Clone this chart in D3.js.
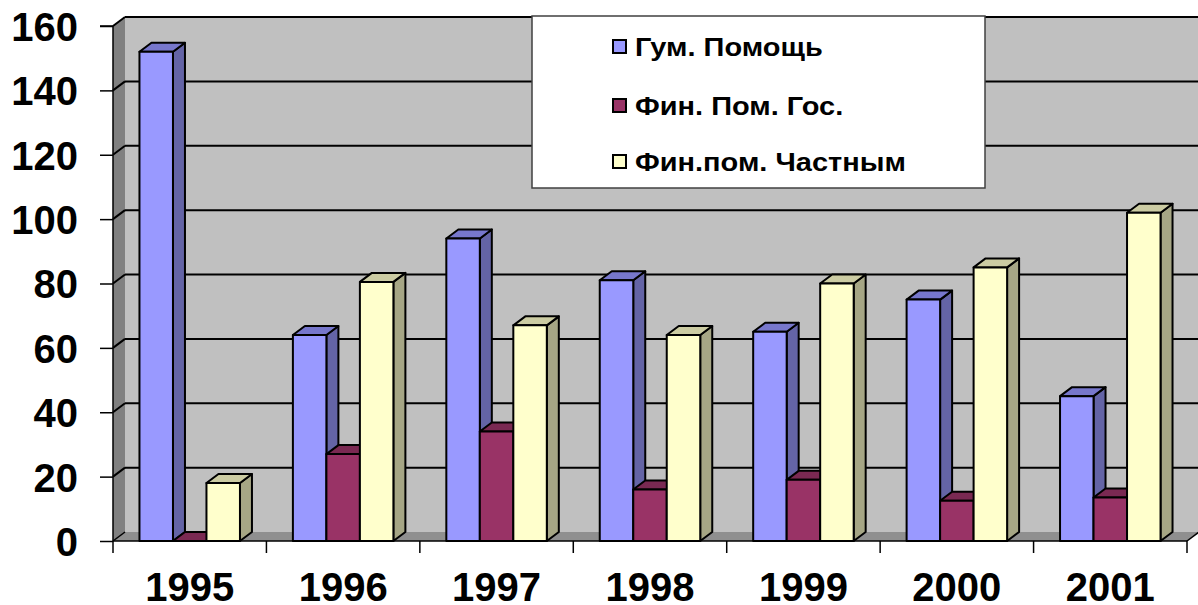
<!DOCTYPE html>
<html><head><meta charset="utf-8">
<script src="https://cdn.jsdelivr.net/npm/d3@7/dist/d3.min.js"></script>
<style>body{margin:0;background:#fff}svg{display:block}</style>
</head><body>
<svg id="chart" width="1198" height="605"></svg>
<script>
const years = ["1995","1996","1997","1998","1999","2000","2001"];
const seriesNames = ["Гум. Помощь","Фин. Пом. Гос.","Фин.пом. Частным"];
const humAid = [152, 64, 94, 81, 65, 75, 45];
const finGov = [0, 27, 34, 16, 19, 12.5, 13.5];
const finPrivate = [18, 80.5, 67, 64, 80, 85, 102];
const yTicks = [0,20,40,60,80,100,120,140,160];
const colors = ["#9999FF","#993366","#FFFFCC"];
const topColors = ["#7777CC","#7A2952","#CCCCA3"];
const sideColors = ["#6464A6","#632142","#A6A685"];
const seriesValues = [humAid, finGov, finPrivate];

const svg = d3.select("#chart");
const left = 113, right = 1187, bottom = 541, topY = 26;
const dx = 12, dy = 9;
const font = "'Liberation Sans', Arial, sans-serif";

const y = d3.scaleLinear().domain([0,160]).range([bottom, topY]);
const x0 = d3.scaleBand().domain(years).range([left, right]).paddingInner(0.345).paddingOuter(0.1725);
const x1 = d3.scaleBand().domain(d3.range(3)).range([0, x0.bandwidth()]);

// back wall
svg.append("rect").attr("x", left+dx).attr("y", topY-dy).attr("width", 1198-left-dx+2).attr("height", bottom-topY)
  .attr("fill","#C0C0C0");
// left wall
svg.append("polygon").attr("points", `${left},${topY} ${left+dx},${topY-dy} ${left+dx},${bottom-dy} ${left},${bottom}`)
  .attr("fill","#808080");
// floor
svg.append("polygon").attr("points", `${left},${bottom} ${left+dx},${bottom-dy} ${right+dx},${bottom-dy} ${right},${bottom}`)
  .attr("fill","#8F8F8F");

// gridlines
const g = svg.append("g").attr("stroke","#000").attr("stroke-width",2).attr("fill","none");
yTicks.filter(v=>v>0).forEach(v=>{
  g.append("line").attr("x1", left+dx).attr("x2", 1200).attr("y1", y(v)-dy).attr("y2", y(v)-dy);
  g.append("line").attr("x1", left).attr("x2", left+dx).attr("y1", y(v)).attr("y2", y(v)-dy);
});
g.append("line").attr("x1", right).attr("x2", right+dx).attr("y1", bottom).attr("y2", bottom-dy).attr("stroke-width",1.5);
g.append("line").attr("x1", left).attr("x2", left+dx).attr("y1", bottom).attr("y2", bottom-dy).attr("stroke-width",1.5);

// bars
const bars = svg.append("g").attr("stroke","#000").attr("stroke-width",2).attr("stroke-linejoin","round");
years.forEach((yr, i) => {
  seriesValues.forEach((vals, s) => {
    const v = vals[i];
    const xl = x0(yr) + x1(s), w = x1.bandwidth();
    const yt = y(v), yb = y(0);
    bars.append("polygon").attr("points", `${xl+w},${yt} ${xl+w+dx},${yt-dy} ${xl+w+dx},${yb-dy} ${xl+w},${yb}`)
      .attr("fill", sideColors[s]);
    bars.append("polygon").attr("points", `${xl},${yt} ${xl+dx},${yt-dy} ${xl+w+dx},${yt-dy} ${xl+w},${yt}`)
      .attr("fill", topColors[s]);
    if (v > 0) bars.append("rect").attr("x", xl).attr("y", yt).attr("width", w).attr("height", yb-yt)
      .attr("fill", colors[s]);
  });
});

// axes
const yAxis = d3.axisLeft(y).tickValues(yTicks).tickSize(13).tickPadding(22);
const ya = svg.append("g").attr("transform", `translate(${left},0)`).call(yAxis);
ya.select(".domain").attr("stroke","#000").attr("stroke-width",1.5).attr("d", `M-13,${topY}H0V${bottom}`);
ya.selectAll(".tick line").attr("stroke","#000").attr("stroke-width",1.5);
ya.selectAll(".tick text").attr("font-family", font).attr("font-weight","bold").attr("font-size", 40)
  .attr("fill","#000").attr("dy", "0.36em");

const xa = svg.append("g").attr("transform", `translate(0,${bottom})`);
xa.append("line").attr("x1", left).attr("x2", right).attr("y1",0).attr("y2",0).attr("stroke","#000").attr("stroke-width",1.5);
d3.range(years.length+1).forEach(i=>{
  const xx = left + i*x0.step();
  xa.append("line").attr("x1", xx).attr("x2", xx).attr("y1", 0).attr("y2", 12).attr("stroke","#000").attr("stroke-width",1.5);
});
xa.selectAll("text.yr").data(years).enter().append("text").attr("class","yr")
  .attr("x", d => x0(d) + x0.bandwidth()/2).attr("y", 60)
  .attr("text-anchor","middle").attr("font-family", font).attr("font-weight","bold").attr("font-size", 40)
  .text(d=>d);

// legend
const lg = svg.append("g");
lg.append("rect").attr("x", 532).attr("y", 16).attr("width", 453).attr("height", 172)
  .attr("fill","#fff").attr("stroke","#404040").attr("stroke-width",1.5);
const rowsY = [47, 106, 162];
seriesNames.forEach((n, s) => {
  lg.append("rect").attr("x", 613).attr("y", rowsY[s]-7).attr("width", 13).attr("height", 13)
    .attr("fill", colors[s]).attr("stroke","#000").attr("stroke-width",2);
  lg.append("text").attr("transform", `translate(635,${rowsY[s]+9}) scale(1.115,1)`)
    .attr("font-family", font).attr("font-weight","bold")
    .attr("font-size", 26).text(n);
});
</script>
</body></html>
